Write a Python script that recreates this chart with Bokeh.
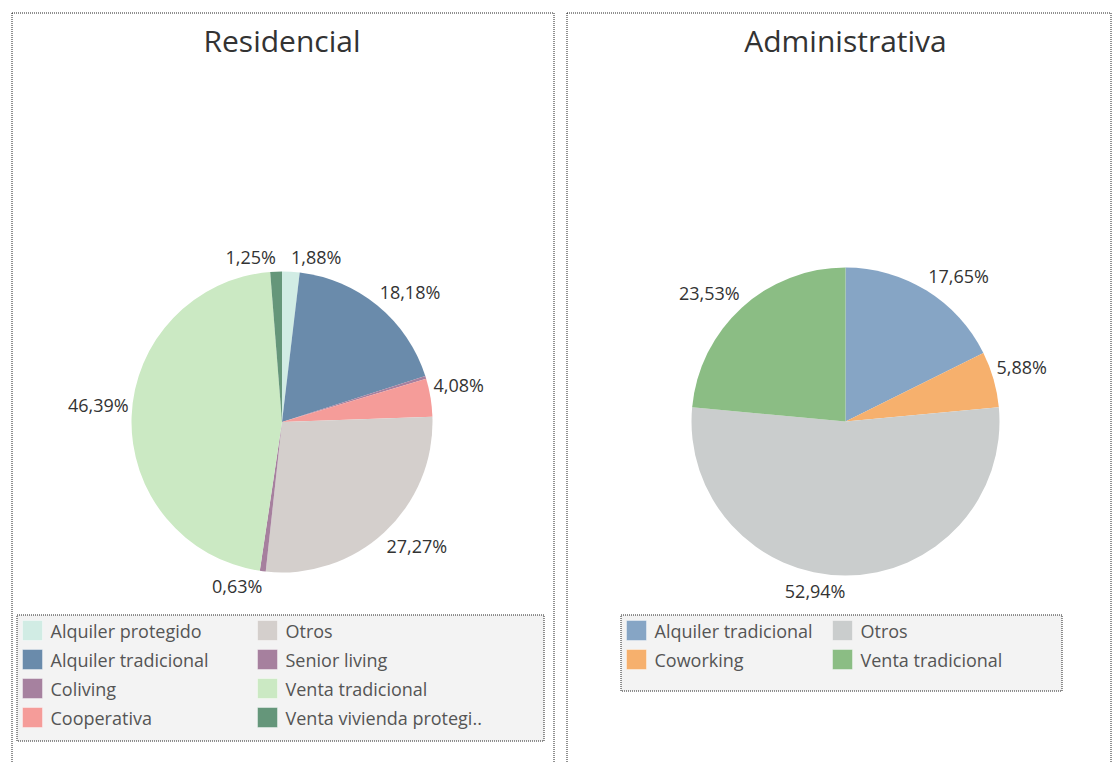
import math
from bokeh.plotting import figure
from bokeh.models import Range1d, ColumnDataSource
from bokeh.core.properties import value
from bokeh.embed import file_html
from bokeh.resources import INLINE

# ---------------- data ----------------
res_title = "Residencial"
res_categories = ["Alquiler protegido", "Alquiler tradicional", "Coliving", "Cooperativa",
                  "Otros", "Senior living", "Venta tradicional", "Venta vivienda protegida"]
res_legend_labels = ["Alquiler protegido", "Alquiler tradicional", "Coliving", "Cooperativa",
                     "Otros", "Senior living", "Venta tradicional", "Venta vivienda protegi.."]
res_values = [1.88, 18.18, 0.31, 4.08, 27.27, 0.63, 46.39, 1.25]
res_colors = ["#d1ece4", "#6a8bab", "#a6819f", "#f59c99",
              "#d4cfcc", "#a6809e", "#cbe9c3", "#65967a"]

adm_title = "Administrativa"
adm_categories = ["Alquiler tradicional", "Coworking", "Otros", "Venta tradicional"]
adm_legend_labels = ["Alquiler tradicional", "Coworking", "Otros", "Venta tradicional"]
adm_values = [17.65, 5.88, 52.94, 23.53]
adm_colors = ["#86a5c5", "#f6b06d", "#cacdcd", "#8bbd84"]

# ---------------- layout ----------------
W, H = 1113, 763
FONT = "Open Sans"
TXT = "#333333"
LEG_TXT = "#555555"


def px(x):
    return x


def py(y):
    return H - y


p = figure(width=W, height=H, x_range=Range1d(0, W), y_range=Range1d(0, H),
           output_backend="svg", toolbar_location=None, min_border=0)
p.axis.visible = False
p.grid.visible = False
p.outline_line_color = None
p.background_fill_color = "white"
p.border_fill_color = "white"


def panel(x0, x1, top):
    p.quad(left=[px(x0) + 0.5], right=[px(x1) + 0.5], top=[py(top) - 0.5], bottom=[-20],
           fill_color=None, line_color="#222222", line_width=1, line_dash="1 1")


def pie(cx, cy, r, values, colors, title):
    total = sum(values)
    cum = 0.0
    starts, ends, mids = [], [], []
    for v in values:
        a0 = cum / total * 2 * math.pi
        cum += v
        a1 = cum / total * 2 * math.pi
        starts.append(math.pi / 2 - a0)
        ends.append(math.pi / 2 - a1)
        mids.append((a0 + a1) / 2)
    src = ColumnDataSource(dict(start=starts, end=ends, color=colors))
    p.wedge(x=px(cx), y=py(cy), radius=r, start_angle="start", end_angle="end",
            direction="clock", fill_color="color", line_color=None, source=src)
    # labels
    for v, m in zip(values, mids):
        if v < 0.5:
            continue
        dx, dy = math.sin(m), math.cos(m)
        lx = px(cx) + (r + 3) * dx
        ly = py(cy) + (r + 3) * dy
        align = "left" if dx > 1e-6 else "right"
        base = "bottom" if dy > 0 else "top"
        p.text(x=[lx], y=[ly], text=[f"{v:.2f}".replace(".", ",") + "%"],
               text_font=value(FONT), text_font_size="18px", text_color=TXT,
               text_align=align, text_baseline=base)
    p.text(x=[px(cx)], y=[py(40)], text=[title], text_font=value(FONT),
           text_font_size="30px", text_color=TXT, text_align="center",
           text_baseline="middle")


def legend(box, labels, colors, col_x, rows):
    x0, x1, y0, y1 = box
    p.quad(left=[px(x0) + 0.5], right=[px(x1) + 0.5], top=[py(y0) - 0.5], bottom=[py(y1) - 0.5],
           fill_color="#f3f3f3", line_color="#222222", line_width=1, line_dash="1 1")
    for i, (lab, col) in enumerate(zip(labels, colors)):
        c = i // rows
        rr = i % rows
        sx = col_x[c]
        sy = 630 + rr * 29
        p.quad(left=[px(sx)], right=[px(sx + 20)], top=[py(sy - 10)], bottom=[py(sy + 10)],
               fill_color=col, line_color="white", line_alpha=0.4, line_width=1)
        p.text(x=[px(sx + 28)], y=[py(sy)], text=[lab], text_font=value(FONT),
               text_font_size="18px", text_color=LEG_TXT, text_align="left",
               text_baseline="middle")


panel(11, 553, 12)
panel(566, 1110, 12)

pie(281.5, 421.5, 150.5, res_values, res_colors, res_title)
pie(845, 421, 154, adm_values, adm_colors, adm_title)

legend((16, 543, 614, 740), res_legend_labels, res_colors, [22, 257], 4)
legend((620, 1061, 614, 690), adm_legend_labels, adm_colors, [626, 832], 2)

open("out.html", "w").write(file_html(p, INLINE))
